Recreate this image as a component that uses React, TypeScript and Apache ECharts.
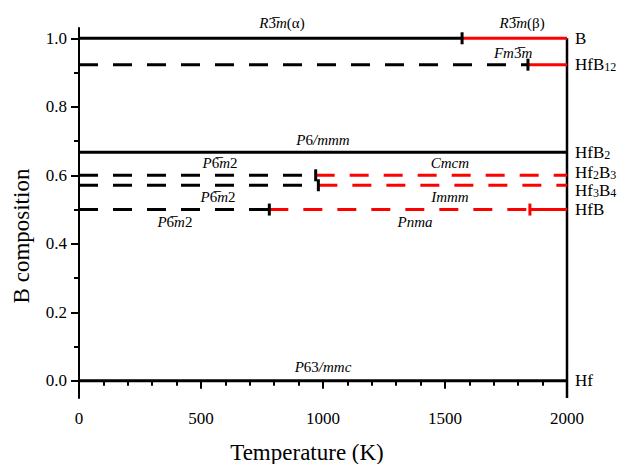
import React, { useEffect, useRef } from "react";
import * as echarts from "echarts";

const FONT = "Liberation Serif";

// Compositions (B fraction) of the compounds
const compounds = ["B", "HfB12", "HfB2", "Hf2B3", "Hf3B4", "HfB", "Hf"];
const compoundLabels = ["{a|B}", "{a|HfB}{s|12}", "{a|HfB}{s|2}", "{a|Hf}{s|2}{a|B}{s|3}", "{a|Hf}{s|3}{a|B}{s|4}", "{a|HfB}", "{a|Hf}"];
const compositions = [1.0, 0.923, 0.667, 0.6, 0.571, 0.5, 0.0];

// Phase segments: compound index, T start, T end, colour, dashed
const segCompound = [0, 0, 1, 1, 2, 3, 3, 4, 4, 5, 5, 5, 6];
const segStart = [0, 1570, 0, 1840, 0, 0, 970, 0, 981, 0, 780, 1848, 0];
const segEnd = [1570, 2000, 1840, 2000, 2000, 970, 2000, 981, 2000, 780, 1848, 2000, 2000];
const segColor = ["#000", "#f00", "#000", "#f00", "#000", "#000", "#f00", "#000", "#f00", "#000", "#f00", "#f00", "#000"];
const segDashed = [false, false, true, false, false, true, true, true, true, true, true, false, false];

// Transition markers: compound index, T, colour
const transCompound = [0, 1, 3, 4, 5, 5];
const transT = [1570, 1840, 970, 981, 780, 1848];
const transColor = ["#000", "#000", "#000", "#000", "#000", "#f00"];

// Phase (space group) labels
const phaseText = [
  "{it|R}{rm|3\u0305}{it|m}{rm|(α)}",
  "{it|R}{rm|3\u0305}{it|m}{rm|(β)}",
  "{it|Fm}{rm|3\u0305}{it|m}",
  "{it|P}{rm|6}{it|/mmm}",
  "{it|P}{rm|6\u0305}{it|m}{rm|2}",
  "{it|Cmcm}",
  "{it|P}{rm|6\u0305}{it|m}{rm|2}",
  "{it|Immm}",
  "{it|P}{rm|6\u0305}{it|m}{rm|2}",
  "{it|Pnma}",
  "{it|P}{rm|63}{it|/mmc}",
];
const phaseT = [832, 1816, 1779, 1000, 578, 1520, 570, 1520, 393, 1377, 1000];
const phaseCompound = [0, 0, 1, 2, 3, 3, 4, 4, 5, 5, 6];
const phaseSide = ["top", "top", "top", "top", "top", "top", "bottom", "bottom", "bottom", "bottom", "top"];

const yTicks = [0, 0.2, 0.4, 0.6, 0.8, 1.0];
const yMinorTicks = [0.1, 0.3, 0.5, 0.7, 0.9];

export default function App() {
  const ref = useRef<HTMLDivElement>(null);
  useEffect(() => {
    document.body.style.margin = "0";
    if (!ref.current) return;
    const chart = echarts.init(ref.current, null, { renderer: "svg" });

    const segSeries = segCompound.map((ci, k) => ({
      type: "line",
      data: [
        [segStart[k], compositions[ci]],
        [segEnd[k], compositions[ci]],
      ],
      showSymbol: false,
      symbol: "none",
      silent: true,
      z: 3,
      lineStyle: {
        color: segColor[k],
        width: 3,
        opacity: 1,
        type: segDashed[k] ? [19, 15] : "solid",
      },
    }));

    const phaseRich = {
      it: { fontFamily: FONT, fontStyle: "italic", fontSize: 15, lineHeight: 16, color: "#000" },
      rm: { fontFamily: FONT, fontStyle: "normal", fontSize: 15, lineHeight: 16, color: "#000" },
    };
    const tickRich = { t: { fontFamily: FONT, fontSize: 17, color: "#000" } };

    const labelOffsets: Record<number, number[]> = { 3: [0, -3], 4: [0, 5] };

    const option: any = {
      animation: false,
      textStyle: { fontFamily: FONT, color: "#000" },
      grid: { left: 79, right: 53, top: 28, bottom: 66, containLabel: false, outerBoundsMode: "none" },
      xAxis: {
        type: "value",
        min: 0,
        max: 2000,
        interval: 500,
        name: "Temperature (K)",
        nameLocation: "middle",
        nameGap: 43,
        nameTextStyle: { fontFamily: FONT, fontSize: 23, color: "#000", padding: [0, 32, 0, 0] },
        axisLine: { lineStyle: { color: "#000", width: 2 } },
        axisTick: { show: true, inside: false, length: 8, lineStyle: { color: "#000", width: 2 } },
        minorTick: { show: true, splitNumber: 5, length: 5, lineStyle: { color: "#000", width: 2 } },
        axisLabel: {
          fontFamily: FONT,
          fontSize: 17,
          color: "#000",
          margin: 12,
          formatter: (v: number) => "{t|" + String(v) + "}",
          rich: tickRich,
        },
        splitLine: { show: false },
      },
      yAxis: [
        {
          type: "value",
          min: -0.05,
          max: 1.03,
          name: "B composition",
          nameLocation: "middle",
          nameGap: 46,
          nameTextStyle: { fontFamily: FONT, fontSize: 23, color: "#000", padding: [0, 46, 0, 0] },
          axisLine: { show: true, lineStyle: { color: "#000", width: 2 } },
          axisTick: { show: true, inside: false, length: 8, customValues: yTicks, lineStyle: { color: "#000", width: 2 } },
          axisLabel: {
            fontFamily: FONT,
            fontSize: 17,
            color: "#000",
            margin: 12,
            customValues: yTicks,
            formatter: (v: number) => "{t|" + v.toFixed(1) + "}",
            rich: tickRich,
          },
          splitLine: { show: false },
        },
        {
          type: "value",
          min: -0.05,
          max: 1.03,
          position: "left",
          offset: 0,
          axisLine: { show: false },
          axisTick: { show: true, inside: false, length: 5, customValues: yMinorTicks, lineStyle: { color: "#000", width: 2 } },
          axisLabel: { show: false },
          splitLine: { show: false },
        },
      ],
      series: [
        // right border
        {
          type: "line",
          data: [
            [2000, -0.05],
            [2000, compositions[0]],
          ],
          symbol: "none",
          silent: true,
          z: 2,
          lineStyle: { color: "#000", width: 2.5 },
        },
        ...segSeries,
        {
          type: "scatter",
          symbol: "rect",
          symbolSize: [3, 12],
          silent: true,
          z: 5,
          itemStyle: { opacity: 1 },
          data: transCompound.map((ci, k) => ({
            value: [transT[k], compositions[ci]],
            itemStyle: { color: transColor[k], opacity: 1 },
          })),
        },
        {
          type: "scatter",
          symbolSize: 0,
          silent: true,
          z: 6,
          itemStyle: { color: "#000", opacity: 1 },
          label: { color: "#000", opacity: 1 },
          data: phaseCompound.map((ci, k) => ({
            value: [phaseT[k], compositions[ci]],
            name: "phase" + k,
            label: {
              show: true,
              position: phaseSide[k],
              distance: k < 2 ? 7 : k === 10 ? 6 : 4,
              formatter: phaseText[k],
              color: "#000",
              opacity: 1,
              fontFamily: FONT,
              fontSize: 15,
              rich: phaseRich,
            },
          })),
        },
        {
          type: "scatter",
          symbolSize: 0,
          silent: true,
          z: 6,
          itemStyle: { color: "#000", opacity: 1 },
          label: { color: "#000", opacity: 1 },
          data: compounds.map((c, k) => ({
            value: [2000, compositions[k]],
            name: c,
            label: {
              show: true,
              position: "right",
              distance: 8,
              opacity: 1,
              offset: labelOffsets[k] || [0, 0],
              formatter: compoundLabels[k],
              rich: {
                a: { fontFamily: FONT, fontSize: 17, lineHeight: 17, color: "#000" },
                s: { fontFamily: FONT, fontSize: 12, lineHeight: 17, color: "#000", verticalAlign: "bottom" },
              },
            },
          })),
        },
      ],
    };
    chart.setOption(option);
    return () => chart.dispose();
  }, []);
  return <div ref={ref} style={{ width: 620, height: 464 }} />;
}
